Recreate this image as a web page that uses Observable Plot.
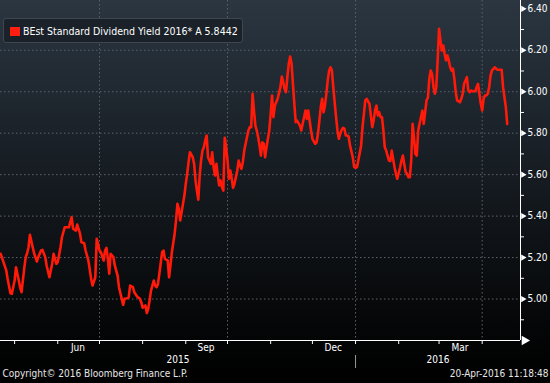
<!DOCTYPE html>
<html><head><meta charset="utf-8">
<script src="https://cdn.jsdelivr.net/npm/d3@7"></script>
<script src="https://cdn.jsdelivr.net/npm/@observablehq/plot@0.6"></script>
<style>
html,body{margin:0;padding:0;background:#000;}
#wrap{position:relative;width:550px;height:383px;overflow:hidden;
  background:linear-gradient(to bottom,#2b3641 0%,#161c22 45%,#050607 85%,#000 100%);}
#legend{position:absolute;left:3px;top:18px;width:240px;height:25px;box-sizing:border-box;
  border:1px solid #3e464f;border-radius:3px;background:#1a2129;
  font-family:"DejaVu Sans Condensed","DejaVu Sans",sans-serif;font-stretch:condensed;font-size:10.5px;color:#fff;white-space:nowrap;}
#legend .sw{position:absolute;left:6px;top:8px;width:10px;height:9px;background:#ff1e0f;}
#legend .tx{position:absolute;left:19px;top:5px;line-height:14px;}
svg{font-stretch:condensed;}
</style></head>
<body><div id="wrap"><div id="chart"></div>
<div id="legend"><span class="sw"></span><span class="tx">BEst Standard Dividend Yield 2016* A 5.8442</span></div></div>
<script>
// Trading-day series: days since 2015-04-20, and yield values (%)
const startISO = "2015-04-20";
const days = [1,3,5,6,8,9,11,12,14,15,16,18,19,20,21,22,24,25,27,28,30,31,33,34,36,38,39,41,42,44,45,47,49,50,52,53,55,56,58,59,61,62,64,66,67,69,
70,72,73,75,76,77,78,79,80,82,83,85,86,88,89,90,92,93,94,96,97,99,101,102,103,105,106,107,108,109,111,112,113,114,115,117,118,119,121,122,123,124,126,127,
128,129,130,131,132,133,134,135,136,137,139,140,141,142,143,144,145,146,147,148,149,150,151,152,153,154,155,156,157,158,159,160,161,162,163,164,165,166,167,168,169,170,171,172,173,174,175,176,177,179,180,181,182,183,184,185,186,187,188,189,190,191,
192,194,195,196,197,198,199,200,202,203,204,205,206,207,208,209,210,211,212,213,214,216,217,218,219,220,221,222,223,224,225,227,228,229,230,231,232,233,234,235,236,237,238,239,240,241,242,243,244,245,246,247,248,249,
250,251,252,254,255,256,257,258,260,261,262,263,264,266,267,268,269,270,271,272,273,274,275,276,277,278,279,280,281,282,283,284,285,286,288,289,290,291,292,293,294,295,296,297,298,299,300,301,302,303,304,305,306,307,308,309,310,
311,312,313,314,315,316,317,318,319,320,321,322,323,324,325,326,327,328,329,331,332,333,334,336,337,338,339,340,342,343,344,345,346,347,348,349,350,351,352,353,354,356,357,358,361,362,364,365];
const yields = [5.218,5.178,5.138,5.097,5.028,5.025,5.089,5.153,5.089,5.054,5.033,5.153,5.202,5.221,5.250,5.310,5.250,5.221,5.181,5.202,5.234,5.237,5.202,5.162,5.105,5.170,5.218,5.170,5.178,5.250,5.298,5.346,5.346,5.346,5.395,5.339,5.330,5.359,5.315,5.274,5.269,5.234,5.186,5.097,5.065,5.105,
5.290,5.234,5.226,5.186,5.234,5.247,5.194,5.122,5.218,5.202,5.162,5.113,5.057,5.001,4.972,5.001,5.004,5.009,5.065,5.057,5.033,5.012,5.001,4.985,4.958,4.969,4.932,4.953,4.993,5.041,5.089,5.065,5.057,5.073,5.122,5.226,5.234,5.194,5.186,5.105,5.162,5.226,5.315,5.379,
5.459,5.435,5.379,5.419,5.459,5.499,5.556,5.604,5.660,5.708,5.684,5.652,5.572,5.523,5.479,5.596,5.668,5.716,5.732,5.765,5.789,5.684,5.668,5.652,5.708,5.636,5.596,5.652,5.596,5.548,5.572,5.539,5.523,5.778,5.732,5.668,5.580,5.620,5.580,5.536,5.556,5.588,5.620,5.668,5.644,5.628,5.660,5.716,5.749,5.813,5.829,5.829,5.990,5.909,5.837,5.813,5.781,5.741,5.692,5.756,5.749,5.684,
5.732,5.813,5.893,5.982,5.877,5.933,5.949,5.966,6.022,6.073,6.046,6.014,5.998,6.070,6.135,6.170,6.135,6.038,5.942,5.853,5.861,5.837,5.813,5.845,5.877,5.909,5.869,5.909,5.861,5.813,5.773,5.749,5.756,5.797,5.861,5.925,5.966,5.901,5.933,5.990,6.054,6.102,6.118,6.102,6.022,5.949,5.877,5.813,5.773,5.797,5.816,5.826,5.821,5.789,
5.789,5.784,5.741,5.684,5.636,5.633,5.636,5.668,5.741,5.829,5.893,5.958,5.966,5.942,5.885,5.829,5.861,5.909,5.933,5.885,5.901,5.877,5.877,5.813,5.732,5.716,5.692,5.668,5.665,5.716,5.676,5.636,5.604,5.580,5.636,5.668,5.692,5.652,5.612,5.604,5.588,5.588,5.668,5.845,5.781,5.700,5.692,5.813,5.845,5.877,5.909,5.845,5.901,5.958,5.971,6.062,6.102,
6.086,6.022,5.990,6.022,6.151,6.303,6.247,6.199,6.223,6.183,6.151,6.175,6.151,6.118,6.102,6.111,6.062,5.998,5.958,5.949,5.966,5.990,6.038,6.070,6.006,5.998,6.006,6.002,6.002,6.022,6.038,5.990,5.942,5.909,5.966,5.982,5.982,5.990,6.022,6.078,6.102,6.118,6.111,6.106,6.106,6.022,5.925,5.8442];

// Axis / tick labels
const monthStarts = ["2015-05-01","2015-06-01","2015-07-01","2015-08-01","2015-09-01","2015-10-01","2015-11-01","2015-12-01","2016-01-01","2016-02-01","2016-03-01","2016-04-01"];
const quarterStarts = ["2015-07-01","2015-10-01","2016-01-01","2016-04-01"];
const monthLabels = ["Jun","Sep","Dec","Mar"];
const monthLabelDates = ["2015-06-15T12:00Z","2015-09-15T12:00Z","2015-12-16T00:00Z","2016-03-16T00:00Z"];
const yearLabels = ["2015","2016"];
const yearBoundary = "2016-01-01";
const yMajor = [5.0,5.2,5.4,5.6,5.8,6.0,6.2,6.4];
const yMinor = [4.9,5.1,5.3,5.5,5.7,5.9,6.1,6.3];
const yDomain = [4.80, 6.44];
const xDomainISO = ["2015-04-20T20:40Z","2016-04-28T12:45Z"];
const copyright = "Copyright\u00A9 2016 Bloomberg Finance L.P.";
const stamp = "20-Apr-2016 11:18:48";

const DAY = 864e5;
const t0 = Date.parse(startISO + "T00:00Z");
const data = days.map((d, i) => ({date: new Date(t0 + d * DAY), value: yields[i]}));
const D = s => new Date(s.length === 10 ? s + "T00:00Z" : s);
const xDomain = xDomainISO.map(D);
const yb = D(yearBoundary);
const yearPos = [new Date((+xDomain[0] + +yb) / 2), new Date((+yb + +xDomain[1]) / 2)];
const font = '"DejaVu Sans Condensed","DejaVu Sans",sans-serif';
const gridStyle = {stroke: "#5b636c", strokeOpacity: 1, strokeDasharray: "1.5,2.5"};

const chart = Plot.plot({
  width: 550, height: 383,
  marginTop: 0, marginLeft: 0, marginRight: 30, marginBottom: 43,
  style: {background: "transparent", color: "#fff", fontFamily: font, fontSize: "10px", overflow: "visible"},
  x: {type: "utc", domain: xDomain, axis: null, label: null},
  y: {domain: yDomain, axis: null, label: null},
  marks: [
    Plot.gridY(yMajor.filter(v => v < 6.3), gridStyle),
    Plot.gridX(quarterStarts.map(D), gridStyle),
    Plot.lineY(data, {x: "date", y: "value", stroke: "#ff1a0a", strokeWidth: 2.6, strokeLinejoin: "round"}),
    Plot.ruleX([xDomain[1]], {stroke: "#fff", strokeWidth: 1}),
    Plot.ruleY([yDomain[0]], {stroke: "#fff", strokeWidth: 1}),
    Plot.axisY({anchor: "right", label: null, ticks: yMinor, tickSize: 3, tickFormat: () => "", stroke: "#fff"}),
    Plot.dot(yMajor, {x: () => xDomain[1], y: d => d, symbol: "triangle", r: 2.3, rotate: 90, dx: 2.5, fill: "#fff", stroke: null}),
    Plot.axisY({anchor: "right", label: null, ticks: yMajor, tickSize: 0, tickPadding: 7, tickFormat: d3.format(".2f"), fill: "#fff", fontSize: 10}),
    Plot.dot([yDomain[0]], {x: () => xDomain[1], y: d => d, symbol: "triangle", r: 3.6, rotate: 90, dx: 4, fill: "#fff", stroke: null}),
    Plot.axisX({label: null, ticks: monthStarts.map(D), tickSize: 4, tickFormat: () => "", stroke: "#fff"}),
    Plot.axisX({label: null, ticks: [yb], tickSize: 28, tickFormat: () => "", stroke: "#9a9a9a", strokeDasharray: "0,15,13,20"}),
    Plot.text(monthLabelDates.map(D), {x: d => d, text: (d, i) => monthLabels[i], frameAnchor: "bottom", dy: 10.5, fill: "#fff", fontSize: 10}),
    Plot.text(yearPos, {x: d => d, text: (d, i) => yearLabels[i], frameAnchor: "bottom", dy: 22.5, fill: "#fff", fontSize: 10}),
    Plot.text([copyright], {text: d => d, frameAnchor: "bottom-left", textAnchor: "start", dx: 2, dy: 36, fill: "#e6e6e6", fontSize: 10}),
    Plot.text([stamp], {text: d => d, frameAnchor: "bottom-right", textAnchor: "end", dx: 28, dy: 36, fill: "#e6e6e6", fontSize: 10})
  ]
});
document.getElementById("chart").appendChild(chart);
</script></body></html>
